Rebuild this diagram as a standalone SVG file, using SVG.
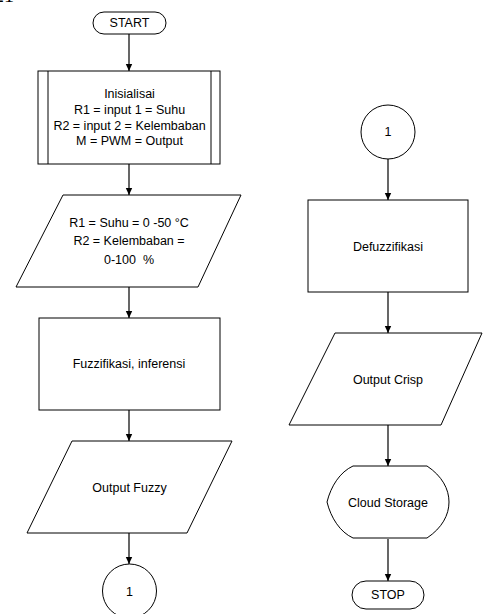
<svg xmlns="http://www.w3.org/2000/svg" width="483" height="614" viewBox="0 0 483 614">
<style>
.s{fill:#fff;stroke:#000;stroke-width:1}
.t{font-family:"Liberation Sans",Arial,sans-serif;font-size:12.5px;fill:#000;text-anchor:middle;dominant-baseline:central}
.c{fill:none;stroke:#000;stroke-width:1.2}
</style>
<defs>
<marker id="ah" markerWidth="8" markerHeight="8" refX="7" refY="4" orient="auto" markerUnits="userSpaceOnUse">
<path d="M0,0.8 L7,4 L0,7.2 Z" fill="#000"/>
</marker>
</defs>
<rect width="483" height="614" fill="#fff"/>
<text x="-6" y="2" style="font-family:'Liberation Serif',serif;font-size:20px">21</text>
<g id="connectors">
<line class="c" x1="129" y1="34" x2="129" y2="71" marker-end="url(#ah)"/>
<line class="c" x1="129" y1="164" x2="129" y2="195" marker-end="url(#ah)"/>
<line class="c" x1="129" y1="287" x2="129" y2="318" marker-end="url(#ah)"/>
<line class="c" x1="129" y1="410" x2="129" y2="441" marker-end="url(#ah)"/>
<line class="c" x1="129" y1="533" x2="129" y2="564" marker-end="url(#ah)"/>
<line class="c" x1="388" y1="159" x2="388" y2="200" marker-end="url(#ah)"/>
<line class="c" x1="388" y1="292" x2="388" y2="333" marker-end="url(#ah)"/>
<line class="c" x1="388" y1="425" x2="388" y2="466" marker-end="url(#ah)"/>
<line class="c" x1="388" y1="539" x2="388" y2="581" marker-end="url(#ah)"/>
</g>
<g id="start">
<rect class="s" x="93" y="12" width="73" height="22" rx="11"/>
<text class="t" x="129.5" y="23">START</text>
</g>
<g id="init">
<rect class="s" x="38" y="71" width="182" height="93"/>
<line class="s" x1="48" y1="71" x2="48" y2="164"/>
<line class="s" x1="211" y1="71" x2="211" y2="164"/>
<text class="t" x="129.5" y="94">Inisialisai</text>
<text class="t" x="129.5" y="110">R1 = input 1 = Suhu</text>
<text class="t" x="129.5" y="126">R2 = input 2 = Kelembaban</text>
<text class="t" x="129.5" y="141">M = PWM = Output</text>
</g>
<g id="input">
<polygon class="s" points="63,195 241,195 198,287 16,287"/>
<text class="t" x="129" y="223">R1 = Suhu = 0 -50 °C</text>
<text class="t" x="129" y="241">R2 = Kelembaban =</text>
<text class="t" x="129" y="260" xml:space="preserve">0-100  %</text>
</g>
<g id="fuzz">
<rect class="s" x="39" y="318" width="181" height="92"/>
<text class="t" x="129" y="364">Fuzzifikasi, inferensi</text>
</g>
<g id="outfuzzy">
<polygon class="s" points="72,441 232,441 187,533 27,533"/>
<text class="t" x="129.5" y="488">Output Fuzzy</text>
</g>
<g id="conn1a">
<circle class="s" cx="129.5" cy="591" r="27"/>
<text class="t" x="129.5" y="592">1</text>
</g>
<g id="conn1b">
<circle class="s" cx="388" cy="132" r="27"/>
<text class="t" x="388" y="132">1</text>
</g>
<g id="defuzz">
<rect class="s" x="308" y="200" width="160" height="92"/>
<text class="t" x="388" y="247">Defuzzifikasi</text>
</g>
<g id="outcrisp">
<polygon class="s" points="335,333 482,333 441,425 289,425"/>
<text class="t" x="388" y="380">Output Crisp</text>
</g>
<g id="cloud">
<path class="s" d="M353,466 L427,466 C442,476 449,489 449,502 C449,515 442,528 427,538 L353,538 C340,532 331,518 327,502 C331,486 340,472 353,466 Z"/>
<text class="t" x="388" y="503">Cloud Storage</text>
</g>
<g id="stop">
<rect class="s" x="352" y="581" width="72" height="28" rx="14"/>
<text class="t" x="388" y="595">STOP</text>
</g>
</svg>
